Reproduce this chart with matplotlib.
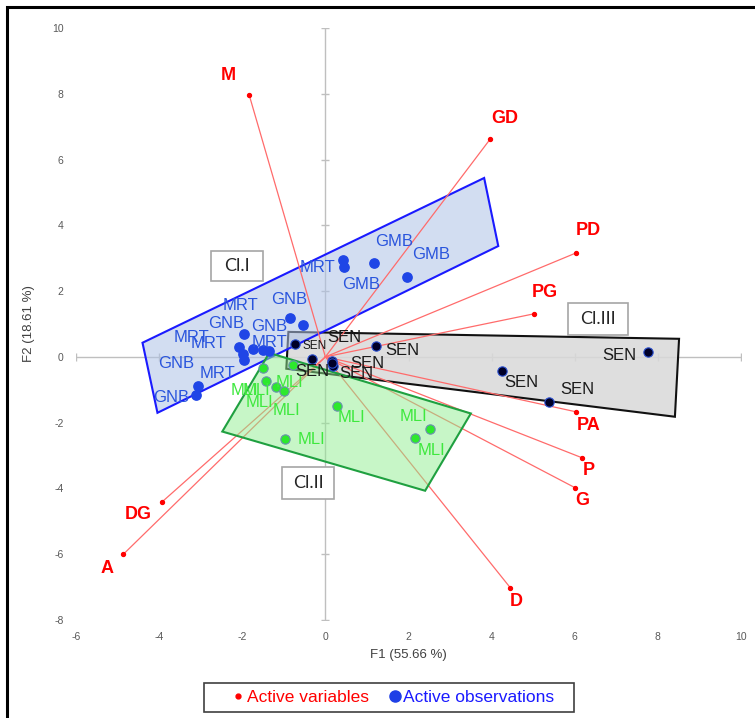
import matplotlib
matplotlib.use('Agg')
import matplotlib.pyplot as plt
from matplotlib.patches import Polygon, Rectangle
from matplotlib.lines import Line2D

# active variables (red arrows from origin)
var_names = ['M', 'GD', 'PD', 'PG', 'PA', 'P', 'G', 'D', 'A', 'DG']
var_f1 = [-1.83, 3.97, 6.03, 5.02, 6.03, 6.18, 6.01, 4.45, -4.86, -3.93]
var_f2 = [7.95, 6.63, 3.16, 1.31, -1.67, -3.07, -3.98, -7.02, -6.00, -4.41]

# active observations
blue_f1 = [0.43, 0.46, 1.18, 1.97, -0.85, -0.55, -1.96, -2.09, -1.99, -1.95, -1.75, -1.49, -1.35, -3.07, -3.11]
blue_f2 = [2.95, 2.74, 2.86, 2.43, 1.19, 0.96, 0.69, 0.31, 0.10, -0.10, 0.25, 0.20, 0.18, -0.90, -1.16]
mli_f1 = [-1.51, -1.43, -1.19, -1.00, -0.79, 0.28, -0.96, 2.16, 2.52]
mli_f2 = [-0.33, -0.74, -0.92, -1.05, -0.24, -1.49, -2.49, -2.46, -2.19]
sen_f1 = [-0.72, -0.33, 0.16, 0.18, 0.17, 1.23, 4.26, 5.38, 7.76]
sen_f2 = [0.40, -0.07, -0.12, -0.27, -0.20, 0.33, -0.43, -1.37, 0.15]

# observation labels
blue_names = ['MRT', 'GNB', 'MRT', 'GNB', 'GNB', 'MRT', 'MRT', 'MRT', 'GNB', 'MRT', 'GNB', 'GMB', 'GMB', 'GMB']
blue_lab_f1 = [-0.19, -0.87, -2.04, -2.38, -1.35, -3.22, -2.81, -1.35, -3.58, -2.60, -3.70, 1.66, 0.87, 2.55]
blue_lab_f2 = [2.71, 1.76, 1.55, 1.00, 0.91, 0.58, 0.40, 0.43, -0.21, -0.49, -1.25, 3.50, 2.19, 3.10]
mli_lab_f1 = [-1.95, -1.66, -0.87, -1.59, -0.94, 0.63, -0.34, 2.12, 2.55]
mli_lab_f2 = [-1.03, -1.03, -0.79, -1.40, -1.64, -1.85, -2.52, -1.82, -2.86]
sen_lab_f1 = [0.46, 1.85, 1.01, -0.31, 0.75, 7.07, 4.71, 6.06]
sen_lab_f2 = [0.58, 0.18, -0.21, -0.43, -0.52, 0.03, -0.79, -1.00]
sen_small_lab = (-0.26, 0.33)

# cluster hulls
cl1_f1 = [-4.40, 3.82, 4.16, -4.04]
cl1_f2 = [0.43, 5.44, 3.37, -1.70]
cl2_f1 = [-1.35, 3.50, 2.40, -2.48]
cl2_f2 = [0.12, -1.72, -4.07, -2.27]
cl3_f1 = [-0.89, 8.51, 8.41, -0.94]
cl3_f2 = [0.76, 0.55, -1.82, -0.36]
cl_names = ['Cl.I', 'Cl.II', 'Cl.III']
cl_lab_f1 = [-2.12, -0.41, 6.56]
cl_lab_f2 = [2.77, -3.83, 1.14]

# label offsets for variables, in points
var_dx = [-15, 10, 9, 8, 9, 5, 5, 4, -12, -17]
var_dy = [14, 15, 16, 15, -10, -9, -9, -10, -10, -9]

plt.rcParams['font.family'] = ['Liberation Sans', 'DejaVu Sans']
plt.rcParams['axes.unicode_minus'] = False

fig = plt.figure(figsize=(7.55, 7.18), dpi=100)
ax = fig.add_axes([76/755, 98/718, 665/755, 592/718])
ax.set_xlim(-6, 10)
ax.set_ylim(-8, 10)
for s in ax.spines.values():
    s.set_visible(False)
ticks_x = list(range(-6, 11, 2))
ticks_y = list(range(-8, 11, 2))
ax.set_xticks(ticks_x)
ax.set_yticks(ticks_y)
ax.tick_params(length=0, labelsize=7.5, labelcolor='#595959')
ax.tick_params(axis='x', pad=9)
ax.tick_params(axis='y', pad=9)
ax.set_xlabel('F1 (55.66 %)', fontsize=9.5, color='#404040', labelpad=5)
ax.set_ylabel('F2 (18.61 %)', fontsize=9.5, color='#404040', labelpad=12)

# axis lines through origin
ax.plot([-6, 10], [0, 0], color='#bfbfbf', lw=1, zorder=0)
ax.plot([0, 0], [-8, 10], color='#bfbfbf', lw=1, zorder=0)
ax.plot(ticks_x, [0]*len(ticks_x), ls='none', marker='|', ms=6, color='#bfbfbf', zorder=0)
ax.plot([0]*len(ticks_y), ticks_y, ls='none', marker='_', ms=6, color='#bfbfbf', zorder=0)

# cluster hulls
ax.add_patch(Polygon(list(zip(cl3_f1, cl3_f2)), closed=True, facecolor='#d9d9d9', alpha=0.85,
                     edgecolor='none', zorder=1))
ax.add_patch(Polygon(list(zip(cl3_f1, cl3_f2)), closed=True, facecolor='none',
                     edgecolor='#111111', lw=1.5, zorder=1.1))
ax.add_patch(Polygon(list(zip(cl1_f1, cl1_f2)), closed=True, facecolor='#aec2e6', alpha=0.55,
                     edgecolor='none', zorder=1.2))
ax.add_patch(Polygon(list(zip(cl1_f1, cl1_f2)), closed=True, facecolor='none',
                     edgecolor='#1a1aff', lw=1.5, zorder=1.3))

# variable vectors
for x, y in zip(var_f1, var_f2):
    ax.plot([0, x], [0, y], color='#ff6b6b', lw=0.9, zorder=2)
ax.scatter(var_f1, var_f2, s=8, color='red', zorder=4)
for n, x, y, dx, dy in zip(var_names, var_f1, var_f2, var_dx, var_dy):
    ax.annotate(n, (x, y), xytext=(dx, dy), textcoords='offset points', ha='center', va='center',
                color='red', fontsize=13, fontweight='bold', zorder=5)

ax.add_patch(Polygon(list(zip(cl2_f1, cl2_f2)), closed=True, facecolor='#90ee90', alpha=0.5,
                     edgecolor='none', zorder=3))
ax.add_patch(Polygon(list(zip(cl2_f1, cl2_f2)), closed=True, facecolor='none',
                     edgecolor='#1fa040', lw=1.5, zorder=3.1))

# observations
ax.scatter(blue_f1, blue_f2, s=45, color='#1f45e6', zorder=4)
ax.scatter(mli_f1, mli_f2, s=45, color='#2de82d', edgecolors='#6a8fb0', linewidths=0.8, zorder=4)
ax.scatter(sen_f1, sen_f2, s=45, color='#000028', edgecolors='#2a4fd0', linewidths=0.8, zorder=4)

for n, x, y in zip(blue_names, blue_lab_f1, blue_lab_f2):
    ax.text(x, y, n, color='#2a55dd', fontsize=12, ha='center', va='center', zorder=5)
for x, y in zip(mli_lab_f1, mli_lab_f2):
    ax.text(x, y, 'MLI', color='#3ee83e', fontsize=12, ha='center', va='center', zorder=5)
for x, y in zip(sen_lab_f1, sen_lab_f2):
    ax.text(x, y, 'SEN', color='#1a1a1a', fontsize=12, ha='center', va='center', zorder=5)
ax.text(sen_small_lab[0], sen_small_lab[1], 'SEN', color='#1a1a1a', fontsize=8.5,
        ha='center', va='center', zorder=5)

# cluster name boxes
box_w = [1.25, 1.25, 1.44]
box_h = [0.91, 0.97, 0.97]
for n, x, y, w, h in zip(cl_names, cl_lab_f1, cl_lab_f2, box_w, box_h):
    ax.add_patch(Rectangle((x - w/2, y - h/2), w, h, facecolor='white', edgecolor='#a6a6a6',
                           lw=1.2, zorder=6))
    ax.text(x, y, n, fontsize=13, family='Lato', color='#262626', ha='center', va='center', zorder=7)

# legend
handles = [Line2D([], [], ls='none', marker='o', ms=3.5, color='red'),
           Line2D([], [], ls='none', marker='o', ms=8, color='#1f3fe6')]
leg = fig.legend(handles, ['Active variables', 'Active observations'], loc='center',
                 bbox_to_anchor=(392/755, 1 - 697/718), ncol=2, frameon=False, fontsize=12.5,
                 handletextpad=0.0, columnspacing=1.0, handlelength=1.0)
for t, c in zip(leg.get_texts(), ['red', '#1a1aff']):
    t.set_color(c)
fig.patches.append(Rectangle((204/755, 1 - 712/718), 370/755, 29/718, transform=fig.transFigure,
                             facecolor='none', edgecolor='#404040', lw=1.2))

# outer frame
fig.patches.append(Rectangle((7/755, -0.1), 1.2, 1.1 - 7/718, transform=fig.transFigure,
                             facecolor='none', edgecolor='black', lw=2.2, clip_on=False))

fig.savefig('out.png', dpi=100)
